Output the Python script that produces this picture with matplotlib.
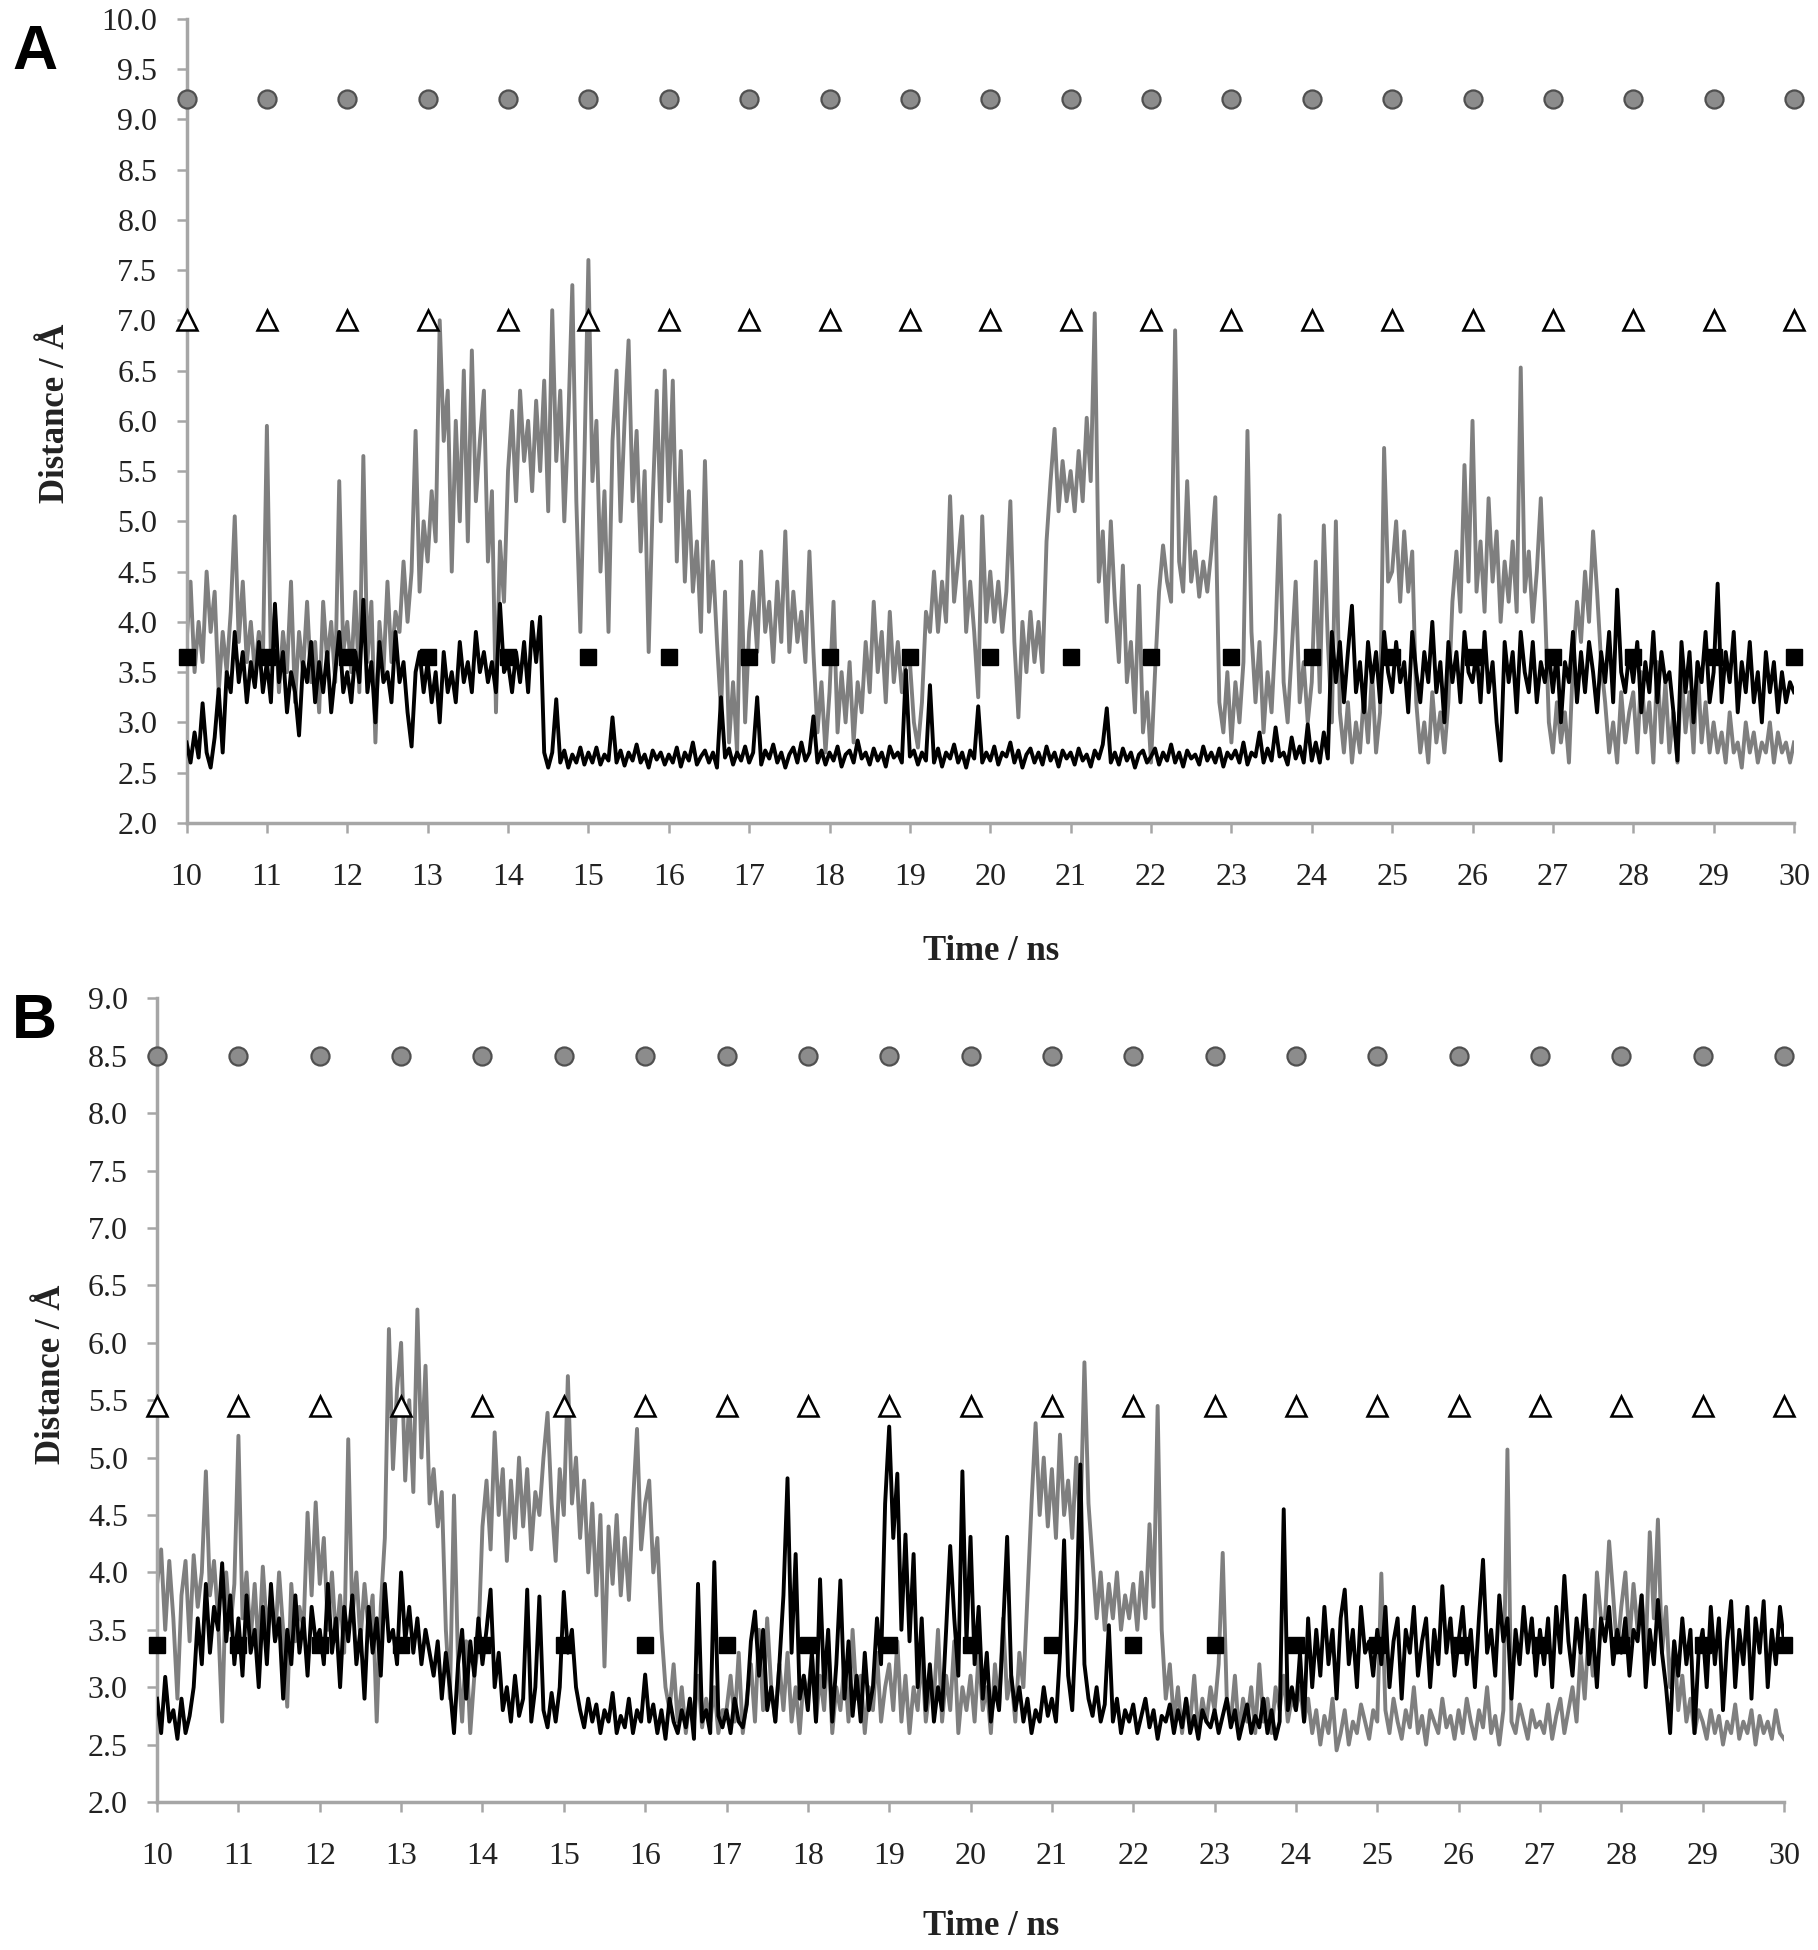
import numpy as np
import matplotlib
matplotlib.use("Agg")
import matplotlib.pyplot as plt

# sample times (ns), one value every 0.05 ns from 10 to 30
time = np.round(np.arange(10.0, 30.0001, 0.05), 2)

# panel A, grey trace (distance / A)
a_grey = [
    3.8, 4.4, 3.5, 4.0, 3.6, 4.5, 3.9, 4.3, 3.3, 3.9, 3.5, 4.1, 5.05, 3.8, 4.4, 3.6, 4.0, 3.5, 3.9, 3.6,
    5.95, 3.6, 4.1, 3.3, 3.9, 3.5, 4.4, 3.2, 3.9, 3.5, 4.2, 3.4, 3.8, 3.1, 4.2, 3.6, 4.0, 3.4, 5.4, 3.7,
    4.0, 3.5, 4.3, 3.3, 5.65, 3.6, 4.2, 2.8, 4.0, 3.5, 4.4, 3.6, 4.1, 3.9, 4.6, 4.0, 4.5, 5.9, 4.3, 5.0,
    4.6, 5.3, 4.8, 7.0, 5.8, 6.3, 4.5, 6.0, 5.0, 6.5, 4.8, 6.7, 5.2, 5.8, 6.3, 4.6, 5.3, 3.1, 4.8, 4.2,
    5.5, 6.1, 5.2, 6.3, 5.6, 6.0, 5.3, 6.2, 5.5, 6.4, 5.1, 7.1, 5.6, 6.3, 5.0, 6.0, 7.35, 5.2, 3.9, 5.6,
    7.6, 5.4, 6.0, 4.5, 5.3, 3.9, 5.8, 6.5, 5.0, 6.0, 6.8, 5.2, 5.9, 4.7, 5.5, 3.7, 5.2, 6.3, 5.0, 6.5,
    5.2, 6.4, 4.6, 5.7, 4.4, 5.3, 4.3, 4.8, 3.9, 5.6, 4.1, 4.6, 3.8, 3.1, 4.3, 2.8, 3.4, 2.7, 4.6, 3.0,
    3.9, 4.3, 3.7, 4.7, 3.9, 4.2, 3.6, 4.4, 3.8, 4.9, 3.7, 4.3, 3.8, 4.1, 3.6, 4.7, 3.7, 2.9, 3.4, 2.7,
    3.3, 4.2, 2.9, 3.5, 3.0, 3.6, 2.8, 3.4, 3.1, 3.8, 3.3, 4.2, 3.5, 3.9, 3.2, 4.1, 3.4, 3.8, 3.3, 3.6,
    3.6, 3.0, 2.75, 3.2, 4.1, 3.9, 4.5, 3.9, 4.4, 4.0, 5.25, 4.2, 4.6, 5.05, 3.9, 4.4, 3.9, 3.25, 5.05, 4.0,
    4.5, 4.0, 4.4, 3.9, 4.3, 5.2, 3.8, 3.05, 4.0, 3.5, 4.1, 3.6, 4.0, 3.5, 4.8, 5.4, 5.92, 5.1, 5.6, 5.2,
    5.5, 5.1, 5.7, 5.2, 6.03, 5.4, 7.07, 4.4, 4.9, 4.0, 5.0, 4.2, 3.6, 4.56, 3.4, 3.8, 3.1, 4.36, 2.9, 3.3,
    2.6, 3.5, 4.3, 4.76, 4.4, 4.2, 6.9, 4.6, 4.3, 5.4, 4.4, 4.7, 4.25, 4.6, 4.3, 4.7, 5.24, 3.2, 2.9, 3.5,
    2.8, 3.4, 3.0, 3.6, 5.9, 3.9, 3.2, 3.8, 2.9, 3.5, 3.1, 3.9, 5.06, 3.4, 3.0, 3.7, 4.4, 3.2, 3.6, 3.0,
    3.4, 4.6, 3.3, 4.96, 3.8, 3.0, 5.0, 3.1, 2.7, 3.2, 2.6, 3.0, 2.7, 3.3, 2.8, 3.5, 2.7, 3.1, 5.73, 4.4,
    4.5, 5.0, 4.2, 4.9, 4.3, 4.7, 3.2, 2.7, 3.0, 2.6, 3.3, 2.8, 3.1, 2.7, 3.2, 4.2, 4.7, 4.1, 5.56, 4.4,
    6.0, 4.3, 4.8, 4.1, 5.23, 4.4, 4.9, 4.0, 4.6, 4.2, 4.8, 4.1, 6.53, 4.3, 4.7, 4.0, 4.5, 5.23, 4.2, 3.0,
    2.7, 3.2, 2.8, 3.1, 2.6, 3.6, 4.2, 3.8, 4.5, 4.0, 4.9, 4.3, 3.6, 3.2, 2.7, 3.0, 2.6, 3.3, 2.8, 3.1,
    3.3, 2.7, 3.5, 2.9, 3.2, 2.6, 3.6, 2.8, 3.4, 2.7, 3.1, 2.6, 3.5, 2.9, 3.3, 2.7, 3.6, 2.8, 3.2, 2.7,
    3.0, 2.7, 2.9, 2.6, 3.1, 2.7, 2.8, 2.55, 3.0, 2.7, 2.9, 2.6, 2.8, 2.7, 3.0, 2.6, 2.9, 2.7, 2.8, 2.6,
    2.8,
]

# panel A, black trace
a_black = [
    2.8, 2.6, 2.9, 2.65, 3.19, 2.7, 2.55, 2.85, 3.33, 2.7, 3.5, 3.3, 3.9, 3.4, 3.7, 3.2, 3.6, 3.35, 3.8, 3.3,
    3.6, 3.2, 4.18, 3.4, 3.7, 3.1, 3.5, 3.3, 2.87, 3.6, 3.4, 3.8, 3.2, 3.6, 3.3, 3.7, 3.1, 3.5, 3.9, 3.3,
    3.5, 3.2, 3.7, 3.4, 4.22, 3.3, 3.6, 3.0, 3.8, 3.4, 3.5, 3.2, 3.9, 3.4, 3.6, 3.1, 2.76, 3.5, 3.7, 3.3,
    3.6, 3.2, 3.5, 3.0, 3.7, 3.3, 3.5, 3.2, 3.8, 3.4, 3.6, 3.3, 3.9, 3.5, 3.7, 3.4, 3.6, 3.3, 4.18, 3.5,
    3.6, 3.3, 3.7, 3.4, 3.8, 3.3, 4.0, 3.6, 4.05, 2.7, 2.55, 2.7, 3.23, 2.6, 2.72, 2.55, 2.68, 2.6, 2.75, 2.58,
    2.7, 2.6, 2.75, 2.58, 2.68, 2.62, 3.05, 2.6, 2.72, 2.57, 2.7, 2.62, 2.78, 2.6, 2.68, 2.55, 2.72, 2.63, 2.7, 2.58,
    2.68, 2.6, 2.75, 2.56, 2.7, 2.62, 2.8, 2.58, 2.66, 2.72, 2.6, 2.7, 2.55, 3.25, 2.65, 2.74, 2.58, 2.7, 2.62, 2.76,
    2.6, 2.7, 3.25, 2.58, 2.72, 2.64, 2.78, 2.6, 2.7, 2.55, 2.68, 2.75, 2.6, 2.8, 2.62, 2.7, 3.06, 2.6, 2.72, 2.58,
    2.7, 2.62, 2.76, 2.56, 2.68, 2.72, 2.6, 2.82, 2.64, 2.7, 2.58, 2.74, 2.62, 2.7, 2.56, 2.76, 2.65, 2.7, 2.6, 3.52,
    2.66, 2.72, 2.58, 2.7, 2.62, 3.37, 2.6, 2.74, 2.56, 2.7, 2.64, 2.78, 2.6, 2.7, 2.55, 2.72, 2.64, 3.16, 2.6, 2.7,
    2.62, 2.76, 2.58, 2.7, 2.66, 2.8, 2.6, 2.72, 2.55, 2.68, 2.74, 2.6, 2.7, 2.58, 2.76, 2.62, 2.7, 2.56, 2.72, 2.64,
    2.7, 2.58, 2.74, 2.62, 2.68, 2.56, 2.72, 2.64, 2.78, 3.14, 2.6, 2.7, 2.58, 2.74, 2.62, 2.7, 2.55, 2.68, 2.72, 2.6,
    2.66, 2.74, 2.58, 2.7, 2.62, 2.78, 2.6, 2.7, 2.56, 2.72, 2.64, 2.68, 2.58, 2.76, 2.62, 2.7, 2.6, 2.74, 2.56, 2.7,
    2.64, 2.72, 2.6, 2.8, 2.58, 2.7, 2.66, 2.9, 2.6, 2.74, 2.62, 2.95, 2.66, 2.7, 2.58, 2.85, 2.64, 2.76, 2.6, 2.98,
    2.62, 2.8, 2.6, 2.9, 2.64, 3.9, 3.4, 3.8, 3.2, 3.7, 4.16, 3.3, 3.6, 3.1, 3.8, 3.4, 3.7, 3.2, 3.9, 3.5,
    3.3, 3.8, 3.4, 3.6, 3.1, 3.9, 3.5, 3.2, 3.7, 3.4, 4.0, 3.3, 3.6, 3.0, 3.8, 3.4, 3.7, 3.2, 3.9, 3.5,
    3.4, 3.7, 3.2, 3.9, 3.3, 3.6, 3.0, 2.62, 3.8, 3.4, 3.7, 3.1, 3.9, 3.5, 3.3, 3.8, 3.2, 3.6, 3.4, 3.7,
    3.3, 3.7, 3.0, 3.6, 3.4, 3.9, 3.2, 3.7, 3.3, 3.8, 3.5, 3.1, 3.7, 3.4, 3.9, 3.2, 4.32, 3.5, 3.3, 3.7,
    3.4, 3.8, 3.1, 3.6, 3.3, 3.9, 3.2, 3.7, 3.4, 3.5, 3.1, 2.62, 3.8, 3.3, 3.7, 3.0, 3.6, 3.4, 3.9, 3.2,
    3.5, 4.38, 3.2, 3.7, 3.4, 3.9, 3.1, 3.6, 3.3, 3.8, 3.2, 3.5, 3.0, 3.7, 3.3, 3.6, 3.1, 3.5, 3.2, 3.4,
    3.3,
]

# panel B, grey trace
b_grey = [
    3.9, 4.2, 3.5, 4.1, 3.6, 2.9, 3.8, 4.1, 3.4, 4.15, 3.7, 4.0, 4.88, 3.8, 4.1, 3.6, 2.7, 4.0, 3.5, 3.9,
    5.19, 3.6, 4.0, 3.4, 3.9, 3.3, 4.05, 3.5, 3.8, 3.4, 4.0, 3.5, 2.83, 3.9, 3.4, 3.7, 3.5, 4.52, 3.8, 4.61,
    3.9, 4.3, 3.5, 4.0, 3.4, 3.8, 3.3, 5.16, 3.6, 4.0, 3.4, 3.9, 3.5, 3.8, 2.7, 3.7, 4.3, 6.12, 4.9, 5.6,
    6.0, 4.8, 5.5, 4.7, 6.29, 5.0, 5.8, 4.6, 4.9, 4.4, 4.7, 3.5, 2.9, 4.67, 3.2, 2.7, 3.4, 2.6, 3.1, 3.4,
    4.4, 4.8, 4.2, 5.22, 4.5, 4.9, 4.1, 4.8, 4.3, 5.0, 4.4, 4.9, 4.2, 4.7, 4.5, 5.0, 5.39, 4.6, 4.1, 4.9,
    4.5, 5.71, 4.6, 5.0, 4.3, 4.8, 4.0, 4.6, 3.8, 4.5, 3.18, 4.4, 3.9, 4.5, 3.8, 4.3, 3.76, 4.6, 5.25, 4.2,
    4.6, 4.8, 4.0, 4.3, 3.5, 3.0, 2.8, 3.2, 2.7, 3.0, 2.6, 2.9, 2.7, 3.1, 2.65, 2.9, 2.7, 3.0, 2.6, 2.8,
    2.8, 3.1, 2.7, 3.3, 2.6, 2.9, 3.2, 2.7, 3.5, 2.8, 3.6, 3.0, 2.7, 3.2, 2.8, 3.3, 2.7, 3.0, 2.6, 3.1,
    2.9, 3.3, 2.7, 3.1, 2.8, 3.4, 2.6, 3.0, 2.8, 3.2, 2.7, 3.5, 2.9, 3.1, 2.6, 3.0, 2.8, 3.3, 2.7, 3.0,
    3.2, 2.8, 3.4, 2.7, 3.1, 2.6, 3.0, 2.8, 3.3, 2.7, 3.0, 2.9, 3.5, 2.7, 3.1, 2.8, 3.4, 2.6, 3.0, 2.8,
    3.1, 2.7, 3.3, 2.8, 3.0, 2.6, 3.2, 2.8, 3.6, 2.9, 3.1, 2.7, 3.3, 3.0, 3.8, 4.6, 5.3, 4.5, 5.0, 4.4,
    4.9, 4.3, 5.2, 4.5, 4.8, 4.3, 5.0, 4.4, 5.83, 4.6, 4.1, 3.6, 4.0, 3.5, 3.9, 3.6, 4.0, 3.5, 3.8, 3.6,
    3.9, 3.5, 4.0, 3.6, 4.42, 3.7, 5.45, 3.5, 2.9, 3.2, 2.7, 3.0, 2.6, 2.9, 2.7, 3.1, 2.6, 2.9, 2.7, 3.0,
    2.8, 3.2, 4.17, 2.9, 2.7, 3.1, 2.6, 2.9, 2.7, 3.0, 2.6, 3.2, 2.7, 2.9, 2.6, 3.0, 2.8, 3.1, 2.7, 2.9,
    2.8, 3.0, 2.7, 2.9, 2.6, 2.8, 2.5, 2.75, 2.6, 2.9, 2.45, 2.6, 2.8, 2.5, 2.7, 2.6, 2.85, 2.7, 2.55, 2.8,
    2.7, 3.99, 2.8, 2.6, 2.9, 2.7, 2.55, 2.8, 2.65, 3.0, 2.6, 2.75, 2.5, 2.8, 2.7, 2.6, 2.9, 2.65, 2.75, 2.55,
    2.8, 2.6, 2.9, 2.7, 2.55, 2.8, 2.65, 3.0, 2.6, 2.75, 2.5, 2.8, 5.07, 2.7, 2.6, 2.85, 2.7, 2.55, 2.8, 2.65,
    2.7, 2.6, 2.85, 2.55, 2.75, 2.9, 2.6, 2.8, 3.0, 2.7, 3.3, 2.9, 3.5, 3.1, 4.0, 3.6, 3.6, 4.27, 3.8, 3.3,
    3.7, 4.0, 3.4, 3.9, 3.5, 3.8, 3.3, 4.35, 3.6, 4.46, 3.3, 3.7, 3.0, 3.4, 2.8, 3.1, 2.7, 2.9, 2.6, 2.8,
    2.7, 2.55, 2.8, 2.6, 2.75, 2.5, 2.7, 2.6, 2.85, 2.55, 2.7, 2.6, 2.8, 2.5, 2.75, 2.6, 2.7, 2.55, 2.8, 2.6,
    2.55,
]

# panel B, black trace
b_black = [
    2.9, 2.6, 3.09, 2.7, 2.8, 2.55, 2.9, 2.6, 2.75, 3.0, 3.6, 3.2, 3.9, 3.3, 3.7, 3.5, 4.08, 3.4, 3.8, 3.2,
    3.6, 3.1, 3.8, 3.3, 3.5, 3.0, 3.7, 3.2, 3.9, 3.4, 3.6, 2.9, 3.5, 3.2, 3.8, 3.3, 3.6, 3.1, 3.7, 3.4,
    3.5, 3.2, 3.9, 3.3, 3.6, 3.0, 3.7, 3.4, 3.8, 3.2, 3.5, 2.9, 3.7, 3.3, 3.6, 3.1, 3.9, 3.4, 3.5, 3.2,
    4.0, 3.4, 3.7, 3.3, 3.6, 3.2, 3.5, 3.3, 3.1, 3.4, 2.9, 3.3, 3.0, 2.6, 3.2, 3.5, 2.9, 3.4, 3.1, 3.6,
    3.2, 3.5, 3.85, 3.0, 3.3, 2.8, 3.0, 2.7, 3.1, 2.75, 2.9, 3.85, 2.7, 3.0, 3.79, 2.8, 2.65, 2.95, 2.7, 3.0,
    3.83, 3.3, 3.5, 3.0, 2.8, 2.65, 2.9, 2.7, 2.85, 2.6, 2.8, 2.7, 2.95, 2.6, 2.75, 2.65, 2.9, 2.6, 2.8, 2.7,
    3.11, 2.7, 2.85, 2.6, 2.8, 2.55, 2.9, 2.7, 2.6, 2.8, 2.65, 2.9, 2.55, 3.9, 2.7, 2.8, 2.6, 4.09, 2.75, 2.65,
    2.8, 2.6, 2.9, 2.7, 2.65, 2.85, 3.4, 3.66, 3.1, 3.5, 2.8, 3.0, 2.7, 3.2, 3.8, 4.82, 3.3, 4.16, 2.9, 3.1,
    2.8, 3.3, 2.7, 3.94, 3.0, 3.5, 2.7, 3.2, 3.93, 2.9, 3.4, 2.75, 3.1, 2.7, 3.3, 2.8, 3.0, 3.6, 3.2, 4.6,
    5.27, 4.3, 4.86, 3.5, 4.33, 3.4, 4.16, 3.0, 3.6, 2.8, 3.2, 2.7, 3.0, 2.8, 3.5, 4.23, 3.6, 3.1, 4.88, 3.4,
    4.31, 3.2, 3.7, 2.9, 3.3, 2.7, 3.0, 2.8, 3.5, 4.31, 3.1, 2.8, 3.0, 2.7, 2.9, 2.6, 2.8, 2.7, 3.0, 2.75,
    2.9, 2.7, 3.3, 4.28, 3.1, 2.8, 3.6, 4.94, 3.2, 2.9, 2.75, 3.0, 2.7, 2.85, 3.54, 2.7, 2.9, 2.6, 2.8, 2.7,
    2.85, 2.6, 2.75, 2.9, 2.65, 2.8, 2.55, 2.75, 2.7, 2.85, 2.6, 2.8, 2.65, 2.9, 2.6, 2.75, 2.55, 2.8, 2.7, 2.65,
    2.8, 2.6, 2.75, 2.9, 2.65, 2.8, 2.55, 2.7, 2.85, 2.6, 2.75, 2.65, 2.9, 2.6, 2.8, 2.55, 2.7, 4.55, 2.8, 3.0,
    2.8, 3.3, 2.7, 3.6, 3.0, 3.5, 3.1, 3.7, 3.2, 3.5, 2.9, 3.6, 3.85, 3.2, 3.5, 3.0, 3.7, 3.3, 3.4, 3.1,
    3.5, 3.2, 3.7, 3.0, 3.4, 3.6, 2.9, 3.5, 3.3, 3.7, 3.1, 3.4, 3.6, 3.0, 3.5, 3.2, 3.88, 3.3, 3.6, 3.1,
    3.4, 3.7, 3.2, 3.5, 3.0, 3.6, 4.11, 3.3, 3.5, 3.1, 3.8, 3.4, 3.6, 2.9, 3.5, 3.2, 3.7, 3.3, 3.6, 3.1,
    3.5, 3.2, 3.6, 3.0, 3.7, 3.3, 3.97, 3.4, 3.1, 3.6, 3.3, 3.8, 3.2, 3.5, 3.0, 3.6, 3.4, 3.7, 3.2, 3.5,
    3.3, 3.6, 3.1, 3.5, 3.4, 3.8, 3.0, 3.5, 3.2, 3.76, 3.3, 3.0, 2.6, 3.4, 3.1, 3.6, 3.2, 3.5, 2.6, 3.3,
    3.5, 3.0, 3.7, 3.2, 3.6, 2.8, 3.4, 3.75, 3.0, 3.5, 3.2, 3.7, 2.9, 3.6, 3.3, 3.75, 3.0, 3.5, 3.2, 3.7,
    3.4,
]

# reference markers, one per ns
marker_t = np.arange(10, 31)
a_circle, a_triangle, a_square = 9.2, 7.0, 3.65
b_circle, b_triangle, b_square = 8.5, 5.45, 3.37

SERIF = ["Liberation Serif", "DejaVu Serif"]
AXIS_GREY = "#a6a6a6"
LINE_GREY = "#7f7f7f"

fig = plt.figure(figsize=(18.18, 19.5), dpi=100)
axA = fig.add_axes([0.1026, 0.578, 0.8842, 0.4124])
axB = fig.add_axes([0.0864, 0.0759, 0.8949, 0.4121])


def draw_panel(ax, grey, black, circ, tri, sq, ymax):
    ax.plot(time, grey, color=LINE_GREY, lw=2.8, zorder=2)
    ax.plot(time, black, color="black", lw=2.8, zorder=3)
    n = len(marker_t)
    ax.plot(marker_t, [circ] * n, ls="none", marker="o", ms=13, mfc="#8c8c8c",
            mec="#505050", mew=1.6, clip_on=False, zorder=5)
    ax.plot(marker_t, [tri] * n, ls="none", marker="^", ms=14, mfc="white",
            mec="black", mew=1.8, clip_on=False, zorder=5)
    ax.plot(marker_t, [sq] * n, ls="none", marker="s", ms=11, mfc="black",
            mec="black", clip_on=False, zorder=5)

    ax.set_xlim(10, 30)
    ax.set_ylim(2.0, ymax)
    ax.set_xticks(np.arange(10, 31))
    ax.set_xticklabels([str(v) for v in range(10, 31)])
    yt = np.arange(2.0, ymax + 0.01, 0.5)
    ax.set_yticks(yt)
    ax.set_yticklabels([f"{v:.1f}" for v in yt])
    for s in ["top", "right"]:
        ax.spines[s].set_visible(False)
    for s in ["left", "bottom"]:
        ax.spines[s].set_color(AXIS_GREY)
        ax.spines[s].set_linewidth(2.5)
    ax.tick_params(axis="both", direction="out", length=7, width=1.8,
                   color=AXIS_GREY, labelcolor="#222222", labelsize=23)
    ax.tick_params(axis="x", pad=22)
    ax.tick_params(axis="y", pad=14)
    for lab in ax.get_xticklabels() + ax.get_yticklabels():
        lab.set_family(SERIF)


draw_panel(axA, a_grey, a_black, a_circle, a_triangle, a_square, 10.0)
draw_panel(axB, b_grey, b_black, b_circle, b_triangle, b_square, 9.0)

lab_kw = dict(family=SERIF, fontsize=25, fontweight="bold", color="#222222")
fig.text(0.545, 0.5123, "Time / ns", ha="center", va="center", **lab_kw)
fig.text(0.0308, 0.788, "Distance / Å", ha="center", va="center", rotation=90, **lab_kw)
fig.text(0.545, 0.012, "Time / ns", ha="center", va="center", **lab_kw)
fig.text(0.0286, 0.2954, "Distance / Å", ha="center", va="center", rotation=90, **lab_kw)

fig.text(0.019, 0.973, "A", ha="center", va="center", fontsize=45,
         fontweight="bold", family=["Liberation Sans", "DejaVu Sans"])
fig.text(0.019, 0.476, "B", ha="center", va="center", fontsize=45,
         fontweight="bold", family=["Liberation Sans", "DejaVu Sans"])

fig.savefig("out.png", dpi=100, facecolor="white")
